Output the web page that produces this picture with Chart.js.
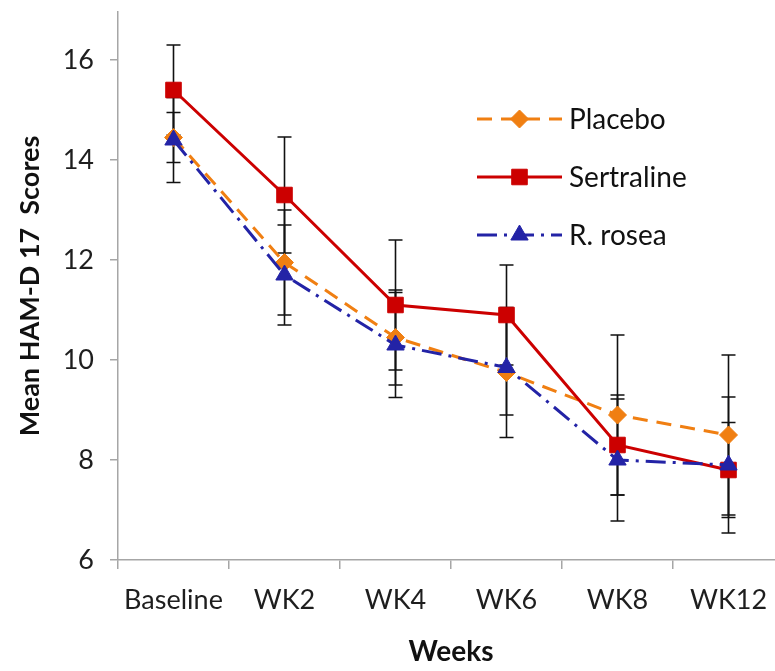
<!DOCTYPE html>
<html>
<head>
<meta charset="utf-8">
<script src="https://cdn.jsdelivr.net/npm/chart.js@4"></script>
<style>
  html, body { margin: 0; padding: 0; background: #fff; overflow: hidden; }
  #wrap { width: 800px; height: 671px; }
</style>
</head>
<body>
<div id="wrap"><canvas id="myChart"></canvas></div>
<script>
const weeks = ['Baseline', 'WK2', 'WK4', 'WK6', 'WK8', 'WK12'];
const placebo = [14.45, 11.95, 10.45, 9.75, 8.9, 8.5];
const placeboErr = [0.5, 1.05, 0.95, 1.3, 1.6, 1.6];
const sertraline = [15.4, 13.3, 11.1, 10.9, 8.3, 7.8];
const sertralineErr = [0.9, 1.16, 1.3, 1.0, 1.0, 0.95];
const rosea = [14.4, 11.7, 10.3, 9.85, 8.0, 7.9];
const roseaErr = [0.85, 1.0, 1.05, 0.95, 1.22, 1.36];
const yTicks = [6, 8, 10, 12, 14, 16];

const FONT = 'Lato, Carlito, "Open Sans", sans-serif';

// error bars, drawn under the lines and markers
const errorBars = {
  id: 'errorBars',
  beforeDatasetsDraw(chart) {
    const ctx = chart.ctx;
    const y = chart.scales.y;
    ctx.save();
    ctx.strokeStyle = '#111';
    ctx.lineWidth = 1.6;
    chart.data.datasets.forEach((ds, di) => {
      const meta = chart.getDatasetMeta(di);
      meta.data.forEach((pt, i) => {
        const hi = y.getPixelForValue(ds.data[i] + ds.err[i]);
        const lo = y.getPixelForValue(ds.data[i] - ds.err[i]);
        ctx.beginPath();
        ctx.moveTo(pt.x, hi); ctx.lineTo(pt.x, lo);
        ctx.moveTo(pt.x - 7, hi); ctx.lineTo(pt.x + 7, hi);
        ctx.moveTo(pt.x - 7, lo); ctx.lineTo(pt.x + 7, lo);
        ctx.stroke();
      });
    });
    ctx.restore();
  }
};

// legend with line samples inside the plot
const lineLegend = {
  id: 'lineLegend',
  afterDraw(chart) {
    const ctx = chart.ctx;
    const x0 = 477, x1 = 562, top = 119, gap = 58;
    ctx.save();
    chart.data.datasets.forEach((ds, i) => {
      const yy = top + i * gap;
      ctx.strokeStyle = ds.borderColor;
      ctx.lineWidth = ds.borderWidth;
      ctx.setLineDash(ds.borderDash || []);
      ctx.beginPath();
      ctx.moveTo(x0, yy); ctx.lineTo(x1, yy);
      ctx.stroke();
      ctx.setLineDash([]);
      ctx.fillStyle = ds.borderColor;
      ctx.lineWidth = 1;
      Chart.helpers.drawPoint(ctx, {
        pointStyle: ds.pointStyle, radius: ds.pointRadius, borderWidth: 1
      }, (x0 + x1) / 2, yy);
      ctx.fillStyle = '#111';
      ctx.font = '28px ' + FONT;
      ctx.textBaseline = 'middle';
      ctx.fillText(ds.label, 569, yy + 1);
    });
    ctx.restore();
  }
};

const data = {
  labels: weeks,
  datasets: [{
    label: 'Placebo',
    data: placebo,
    err: placeboErr,
    order: 2,
    borderColor: '#F07F12',
    backgroundColor: '#F07F12',
    borderWidth: 3,
    borderDash: [15, 9],
    pointStyle: 'rectRot',
    pointRadius: 9,
    pointBorderWidth: 1
  },
  {
    label: 'Sertraline',
    data: sertraline,
    err: sertralineErr,
    order: 1,
    borderColor: '#CC0000',
    backgroundColor: '#CC0000',
    borderWidth: 3,
    pointStyle: 'rect',
    pointRadius: 11,
    pointBorderWidth: 1
  },
  {
    label: 'R. rosea',
    data: rosea,
    err: roseaErr,
    order: 0,
    borderColor: '#2323A6',
    backgroundColor: '#2323A6',
    borderWidth: 3,
    borderDash: [20, 7, 3, 7],
    pointStyle: 'triangle',
    pointRadius: 10,
    pointBorderWidth: 1
  }]
};

const config = {
  type: 'line',
  data,
  options: {
    responsive: true,
    maintainAspectRatio: false,
    animation: false,
    layout: { padding: { left: 0, right: 16, top: 12, bottom: 0 } },
    plugins: { legend: { display: false }, tooltip: { enabled: false } },
    scales: {
      x: {
        offset: true,
        grid: { offset: true, drawOnChartArea: false, drawTicks: true, tickLength: 9, color: '#A6A6A6', lineWidth: 1.5 },
        border: { color: '#A6A6A6', width: 1.5 },
        ticks: { color: '#1E1E1E', font: { family: FONT, size: 27 }, padding: 15, maxRotation: 0 },
        title: { display: true, text: 'Weeks', color: '#111', font: { family: FONT, size: 28, weight: 'bold' }, padding: { top: 0, bottom: 2 } },
        afterFit(scale) { scale.height = 111; scale.paddingLeft = 0; scale.paddingRight = 0; }
      },
      y: {
        min: 6,
        max: 16.96,
        grid: { drawOnChartArea: false, drawTicks: true, tickLength: 8, color: '#A6A6A6', lineWidth: 1.5 },
        border: { color: '#A6A6A6', width: 1.5 },
        ticks: { color: '#1E1E1E', font: { family: FONT, size: 27 }, padding: 16 },
        afterBuildTicks(scale) { scale.ticks = yTicks.map(v => ({ value: v })); },
        title: { display: true, text: 'Mean HAM-D 17  Scores', color: '#111', font: { family: FONT, size: 27, weight: 'bold' }, padding: { top: 14, bottom: 0 } },
        afterFit(scale) { scale.width = 118; scale.paddingTop = 0; scale.paddingBottom = 0; }
      }
    }
  },
  plugins: [errorBars, lineLegend]
};

const myChart = new Chart(document.getElementById('myChart'), config);
</script>
</body>
</html>
